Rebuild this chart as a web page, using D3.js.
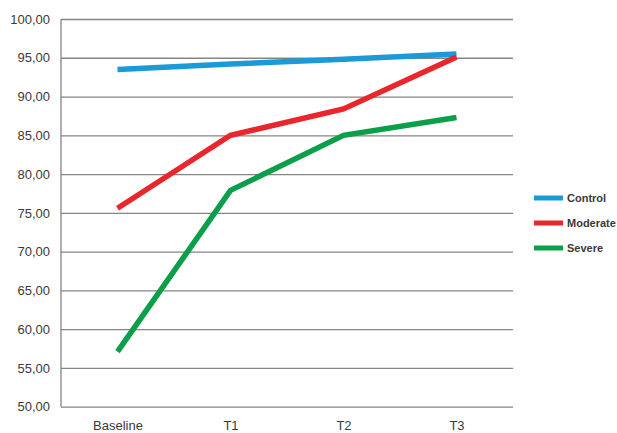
<!DOCTYPE html>
<html><head><meta charset="utf-8">
<script src="https://cdn.jsdelivr.net/npm/d3@7"></script>
<style>body{margin:0;background:#fff}svg{display:block}</style>
</head><body>
<svg id="c" width="617" height="433"></svg>
<script>
const categories = ["Baseline","T1","T2","T3"];
const control = [93.5, 94.2, 94.8, 95.5];
const moderate = [75.6, 85.0, 88.4, 95.1];
const severe = [57.1, 77.9, 85.0, 87.3];
const seriesNames = ["Control","Moderate","Severe"];
const seriesColors = ["#1a9ad7","#e8262b","#0c9f4a"];
const yTicks = [50,55,60,65,70,75,80,85,90,95,100];

const svg = d3.select("#c");
const m = {l:61, r:513, t:19, b:406.7};
const x = d3.scalePoint().domain(categories).range([m.l, m.r]).padding(0.5);
const y = d3.scaleLinear().domain([50,100]).range([m.b, m.t]);
const fmt = v => d3.format(".2f")(v).replace(".", ",");

const yAxis = svg.append("g").attr("transform",`translate(${m.l},0)`)
  .call(d3.axisLeft(y).tickValues(yTicks).tickSize(-(m.r-m.l)).tickFormat(fmt).tickPadding(11));
yAxis.select(".domain").remove();
yAxis.selectAll(".tick line").attr("stroke","#858585").attr("stroke-width",1.3);
yAxis.selectAll("text").attr("fill","#3a3a3a").style("font-family","Liberation Sans, Arial, sans-serif").style("font-size","13px");
svg.append("line").attr("x1",m.l).attr("x2",m.l).attr("y1",m.t).attr("y2",m.b).attr("stroke","#858585").attr("stroke-width",1.3);

const xAxis = svg.append("g").attr("transform",`translate(0,${m.b})`)
  .call(d3.axisBottom(x).tickSize(0).tickPadding(14));
xAxis.select(".domain").remove();
xAxis.selectAll("text").attr("fill","#3a3a3a").style("font-family","Liberation Sans, Arial, sans-serif").style("font-size","13px");

const data = [control, moderate, severe];
const line = d3.line().x((d,i)=>x(categories[i])).y(d=>y(d));
data.forEach((s,k)=>{
  svg.append("path").attr("d",line(s)).attr("fill","none")
    .attr("stroke",seriesColors[k]).attr("stroke-width",5.5);
});

const leg = svg.append("g");
seriesNames.forEach((n,k)=>{
  const yy = 198 + k*25;
  leg.append("line").attr("x1",534).attr("x2",563).attr("y1",yy).attr("y2",yy)
    .attr("stroke",seriesColors[k]).attr("stroke-width",5);
  leg.append("text").attr("x",567).attr("y",yy+4).text(n)
    .attr("fill","#3a3a3a").style("font-family","Liberation Sans, Arial, sans-serif")
    .style("font-size","11px").style("font-weight","bold");
});
</script>
</body></html>
